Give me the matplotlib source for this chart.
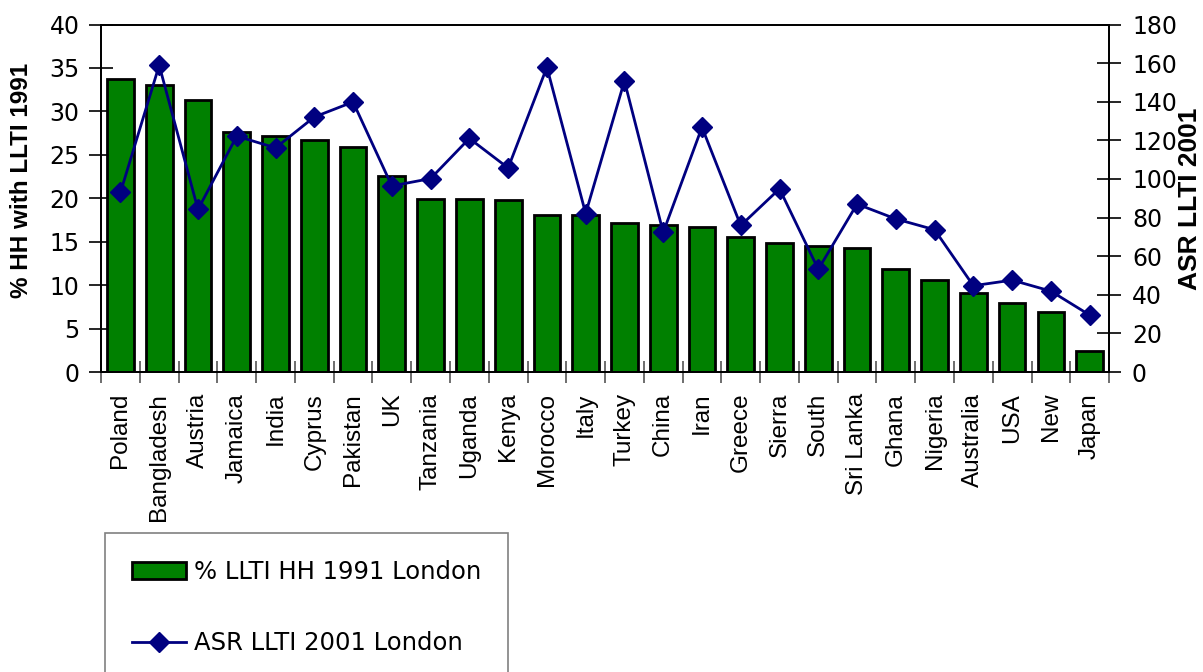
import matplotlib
matplotlib.use("Agg")
import matplotlib.pyplot as plt
import numpy as np
from matplotlib.lines import Line2D
from matplotlib.patches import Patch

paises = ["Poland", "Bangladesh", "Austria", "Jamaica", "India", "Cyprus",
          "Pakistan", "UK", "Tanzania", "Uganda", "Kenya", "Morocco", "Italy",
          "Turkey", "China", "Iran", "Greece", "Sierra", "South", "Sri Lanka",
          "Ghana", "Nigeria", "Australia", "USA", "New", "Japan"]

# % LLTI HH 1991 London (eje izquierdo)
llti_1991 = [33.7, 33.0, 31.3, 27.6, 27.15, 26.7, 25.9, 22.55, 19.87, 19.87,
             19.8, 18.07, 18.07, 17.18, 16.95, 16.7, 15.5, 14.84, 14.5, 14.3,
             11.85, 10.6, 9.09, 7.9, 6.9, 2.45]

# ASR LLTI 2001 London (eje derecho)
asr_2001 = [93, 158.9, 84.2, 122.2, 116.1, 132.1, 139.9, 96.4, 100.2, 121,
            105.7, 157.9, 82.1, 150.8, 72.3, 126.8, 75.9, 94.9, 53.2, 87,
            79.3, 73.7, 44.7, 47.6, 41.9, 29.5]

VERDE = "#008000"
AZUL = "#000080"
FUENTE = ["DejaVu Sans"]
ANGOSTA = ["Liberation Sans", "DejaVu Sans"]

fig = plt.figure(figsize=(12.03, 6.72), dpi=100)
ax = fig.add_axes([0.0840, 0.4464, 0.9219 - 0.0840, 0.9635 - 0.4464])
ax2 = ax.twinx()

x = np.arange(len(paises))
ax.bar(x, llti_1991, width=0.69, color=VERDE, edgecolor="black", linewidth=2,
       zorder=2)
ax2.plot(x, asr_2001, color=AZUL, linewidth=2, marker="D", markersize=10,
         markeredgecolor=AZUL, zorder=3)

ax.set_xlim(-0.5, len(paises) - 0.5)
ax.set_ylim(0, 40)
ax2.set_ylim(0, 180)
ax.set_yticks(np.arange(0, 41, 5))
ax2.set_yticks(np.arange(0, 181, 20))

ax.set_xticks(x)
ax.set_xticklabels(paises, rotation=90, fontsize=17.5, family=ANGOSTA)
ax.set_xticks(np.arange(-0.5, len(paises), 1), minor=True)
ax.tick_params(axis="x", which="major", length=0, pad=15)
ax.tick_params(axis="x", which="minor", direction="inout", length=16,
               width=1.2, color="#555555")
ax.tick_params(axis="y", direction="inout", length=17, width=1.2, pad=7,
               labelsize=17)
ax2.tick_params(axis="y", direction="inout", length=17, width=1.2, pad=8,
                labelsize=17)
for lab in ax.get_yticklabels() + ax2.get_yticklabels():
    lab.set_family(FUENTE)

for a in (ax, ax2):
    for s in a.spines.values():
        s.set_linewidth(1.3)
        s.set_color("black")

ax.set_ylabel("% HH with LLTI 1991", fontsize=17.5, fontweight="bold",
              family=ANGOSTA)
ax.yaxis.set_label_coords(-0.0675, 0.5525)
ax2.set_ylabel("ASR LLTI 2001", fontsize=19, fontweight="bold",
               family=ANGOSTA)
ax2.yaxis.set_label_coords(1.068, 0.498)

handles = [Patch(facecolor=VERDE, edgecolor="black", linewidth=2),
           Line2D([], [], color=AZUL, linewidth=2, marker="D", markersize=10)]
leg = fig.legend(handles, ["% LLTI HH 1991 London", "ASR LLTI 2001 London"],
                 loc="upper left", bbox_to_anchor=(105 / 1203, 1 - 533 / 672),
                 prop={"family": FUENTE, "size": 17.5}, frameon=True,
                 fancybox=False, framealpha=1, edgecolor="#808080",
                 borderpad=1.1, labelspacing=1.95, handlelength=2.25,
                 handletextpad=0.33, borderaxespad=0)
leg.get_frame().set_linewidth(1.2)

fig.savefig("out.png", dpi=100)
